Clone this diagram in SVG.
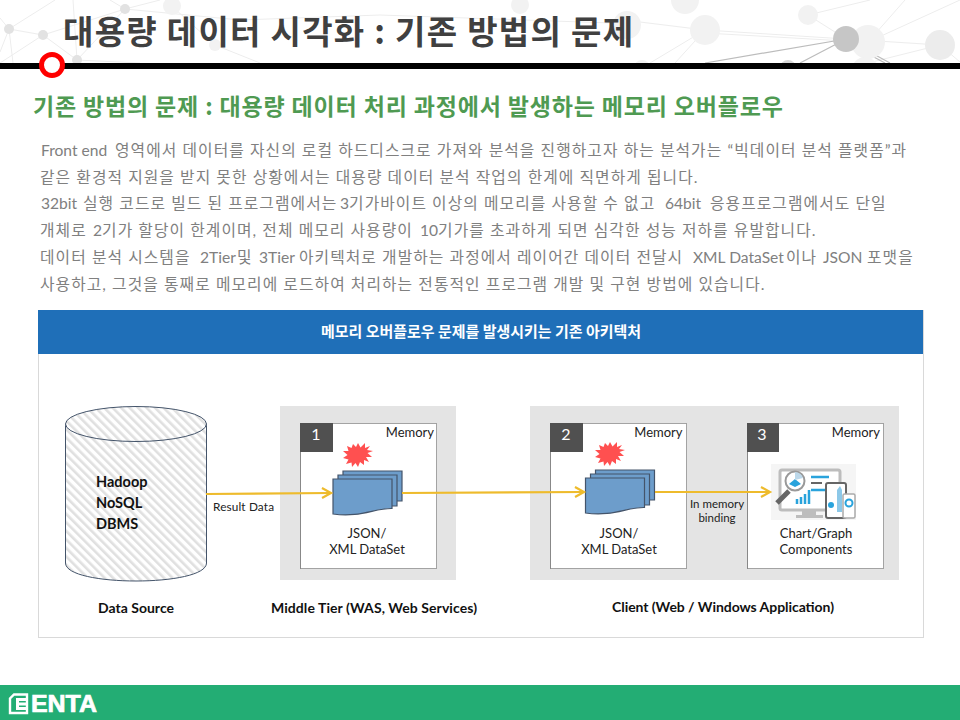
<svg xmlns="http://www.w3.org/2000/svg" width="960" height="720" viewBox="0 0 960 720">
<style>
text{font-family:"Lato","Noto Sans CJK KR","Noto Sans",sans-serif}
.ko{font-family:"Noto Sans CJK KR","Noto Sans",sans-serif}
.body{font-size:15.800px;fill:#808080;letter-spacing:1.060px}
.la{font-size:15.600px;letter-spacing:0}
.lab{font-size:13px;fill:#222;text-anchor:middle}
.mem{font-size:13px;fill:#222;text-anchor:end}
.num{font-size:16px;fill:#fff;text-anchor:middle}
.cap{font-size:14px;font-weight:700;fill:#111;text-anchor:middle}
.db{font-size:14.500px;font-weight:700;fill:#111}
.panel{fill:#e4e4e4}
.box{fill:#fff;stroke:#555;stroke-width:1;stroke-dasharray:1 1}
.edge{stroke:#888;stroke-width:1;fill:none}
.tag{fill:#505050}
.conn{fill:none;stroke:#eebb2c;stroke-width:2.200}
.sheet{fill:#6d9dcb;stroke:#44546a;stroke-width:1.200}
.star{fill:#ff5050}
.nl{stroke:#ededed;stroke-width:1;fill:none}
.nd{fill:#e2e2e2}
.fd{fill:#f2f2f2}
.dl{stroke:#bcbcbc;stroke-width:1.200;fill:none}
</style>
<defs>
<pattern id="hatch" width="6" height="6" patternUnits="userSpaceOnUse" patternTransform="rotate(-45)">
<rect width="6" height="6" fill="#fff"/><rect width="2.600" height="6" fill="#e0e0e0"/>
</pattern>
<clipPath id="top"><rect width="960" height="63"/></clipPath>
<marker id="open" markerWidth="14" markerHeight="14" refX="10" refY="6" orient="auto" markerUnits="userSpaceOnUse">
<path d="M1 1 L10 6 L1 11" fill="none" stroke="#eebb2c" stroke-width="2.200"/>
</marker>
<g id="stack">
<path class="sheet" d="M10 -8H69V22H10Z"/>
<path class="sheet" d="M5 -4H64V27H5Z"/>
<path class="sheet" d="M0 0H59V29.500C42 29 27 39 0 35Z"/>
</g>
<path id="burst" class="star" d="M1 -12 L3.500 -7.500 L8 -12 L8 -7 L13 -9 L10 -5 L16 -4 L10.500 -2 L15 2 L9 2 L12 7 L7 5 L7 10 L3 7 L1 12 L-1.500 8 L-5 12 L-5.500 7.500 L-11 9 L-8.500 4.500 L-14 3 L-9.500 0 L-14 -4 L-8.500 -4 L-10 -9 L-5.500 -7 L-4 -11 L-1 -8Z"/>
</defs>
<rect width="960" height="720" fill="#fff"/>
<g id="network-background" clip-path="url(#top)">
<path class="nl" d="M9 29L55 0M9 29L43 35M9 29L13 63M9 29L0 52M9 29L0 18M43 35L77 60M43 35L125 9M43 35L0 63M77 60L73 0M125 9L77 60M125 9L110 0M125 9L240 20M125 9L160 0M77 60L140 63M215 45L165 0M215 45L260 63M240 20L380 15M380 15L640 24"/>
<path class="nl" d="M640 22L705 30M705 30L846 39M705 33L846 41M705 30L675 63M705 30L650 63M808 15L846 39M808 15L870 0M868 42L905 0M868 42L960 0M846 39L940 45M940 45L868 63M940 45L960 62"/>
<path class="dl" d="M846 39L705 63M846 39L800 63M846 39L890 63M846 42L885 63"/>
<circle class="nd" cx="9" cy="29" r="5"/><circle class="nd" cx="43" cy="35" r="5"/><circle class="nd" cx="77" cy="60" r="5"/><circle class="nd" cx="125" cy="9" r="5"/>
<circle class="fd" cx="172" cy="6" r="9"/><circle class="fd" cx="215" cy="45" r="6"/>
<circle class="fd" cx="520" cy="5" r="9"/><circle class="fd" cx="627" cy="25" r="14"/>
<circle class="fd" cx="685" cy="0" r="14"/><circle class="fd" cx="705" cy="30" r="15"/><circle class="fd" cx="808" cy="15" r="10"/>
<circle class="fd" cx="868" cy="42" r="17"/><circle cx="846" cy="39" r="13" fill="#c6c6c6"/><circle cx="940" cy="45" r="15" fill="#ececec"/>
<circle class="fd" cx="865" cy="70" r="13"/><circle cx="788" cy="68" r="8" fill="#d6d6d6"/><circle class="fd" cx="642" cy="68" r="8"/>
</g>
<g id="title">
<text class="ko" x="63" y="44" font-size="33" font-weight="700" fill="#404040" textLength="570">대용량 데이터 시각화 : 기존 방법의 문제</text>
<rect x="0" y="63" width="960" height="6" fill="#000"/>
<circle cx="52" cy="65" r="10.500" fill="#fff" stroke="#f00" stroke-width="5"/>
</g>
<text class="ko" x="33" y="115" font-size="23" font-weight="700" fill="#4f9a52" textLength="750">기존 방법의 문제 : 대용량 데이터 처리 과정에서 발생하는 메모리 오버플로우</text>
<g id="body-text">
<text class="body" y="156"><tspan class="la" x="41">Front end</tspan><tspan x="115">영역에서 데이터를 자신의 로컬 하드디스크로 가져와 분석을 진행하고자 하는 분석가는 “빅데이터 분석 플랫폼”과</tspan></text>
<text class="body" y="183" x="40">같은 환경적 지원을 받지 못한 상황에서는 대용량 데이터 분석 작업의 한계에 직면하게 됩니다.</text>
<text class="body" y="209"><tspan class="la" x="41">32bit</tspan><tspan x="83">실행 코드로 빌드 된 프로그램에서는</tspan><tspan class="la" x="340">3</tspan><tspan>기가바이트 이상의 메모리를 사용할 수 없고</tspan><tspan class="la" x="665">64bit</tspan><tspan x="710">응용프로그램에서도 단일</tspan></text>
<text class="body" y="236"><tspan x="40">개체로</tspan><tspan class="la" x="93">2</tspan><tspan>기가 할당이 한계이며, 전체 메모리 사용량이</tspan><tspan class="la" x="420">10</tspan><tspan>기가를 초과하게 되면 심각한 성능 저하를 유발합니다.</tspan></text>
<text class="body" y="263"><tspan x="40">데이터 분석 시스템을</tspan><tspan class="la" x="200">2Tier</tspan><tspan x="237">및</tspan><tspan class="la" x="259">3Tier</tspan><tspan x="299">아키텍처로 개발하는 과정에서 레이어간 데이터 전달시</tspan><tspan class="la" x="693">XML DataSet</tspan><tspan x="786">이나</tspan><tspan class="la" x="823">JSON</tspan><tspan x="867">포맷을</tspan></text>
<text class="body" y="290" x="40">사용하고, 그것을 통째로 메모리에 로드하여 처리하는 전통적인 프로그램 개발 및 구현 방법에 있습니다.</text>
</g>
<g id="diagram-frame">
<rect x="38.500" y="310.500" width="885" height="327" fill="#fff" stroke="#d9d9d9"/>
<rect x="38" y="310" width="885" height="44" fill="#1f6fb8"/>
<text class="ko" x="321" y="337" font-size="15" font-weight="700" fill="#fff" textLength="320" lengthAdjust="spacingAndGlyphs">메모리 오버플로우 문제를 발생시키는 기존 아키텍처</text>
</g>
<g id="data-source">
<path d="M65.500 424V563C65.500 587 206.500 587 206.500 563V424Z" fill="url(#hatch)" stroke="#44546a"/>
<ellipse cx="136" cy="424" rx="70.500" ry="17.500" fill="url(#hatch)" stroke="#44546a"/>
<text class="db" x="96" y="487">Hadoop</text><text class="db" x="96" y="508">NoSQL</text><text class="db" x="96" y="529">DBMS</text>
<text class="cap" x="136" y="613" textLength="76">Data Source</text>
</g>
<g id="middle-tier">
<rect class="panel" x="280" y="406" width="176" height="174"/>
<rect class="box" x="300.500" y="423.500" width="136" height="145"/>
<path class="edge" d="M300.500 423V569"/>
<rect class="tag" x="300" y="423" width="33" height="29"/>
<text class="num" x="316" y="440">1</text><text class="mem" x="434" y="437">Memory</text>
<use href="#burst" x="357" y="455"/>
<use href="#stack" x="333" y="479"/>
<text class="lab" x="367" y="538">JSON/</text><text class="lab" x="367" y="554">XML DataSet</text>
<text class="cap" x="374" y="613" textLength="206">Middle Tier (WAS, Web Services)</text>
</g>
<g id="client">
<rect class="panel" x="530" y="406" width="369" height="174"/>
<text class="cap" x="723" y="612" textLength="222">Client (Web / Windows Application)</text>
</g>
<g id="memory-2">
<rect class="box" x="550.500" y="423.500" width="136" height="145"/>
<path class="edge" d="M550.500 423V569"/>
<rect class="tag" x="550" y="423" width="33" height="29"/>
<text class="num" x="566" y="440">2</text><text class="mem" x="682.500" y="437">Memory</text>
<use href="#burst" x="609" y="454"/>
<use href="#stack" x="585.500" y="478"/>
<text class="lab" x="619" y="538">JSON/</text><text class="lab" x="619" y="554">XML DataSet</text>
</g>
<g id="memory-3">
<rect class="box" x="747.500" y="423.500" width="136" height="145"/>
<path class="edge" d="M747.500 423V569"/>
<rect class="tag" x="747" y="423" width="32" height="29"/>
<text class="num" x="762" y="440">3</text><text class="mem" x="880" y="437">Memory</text>
<g id="chart-icon">
<rect x="771" y="464" width="85" height="56" fill="#f5f5f5"/>
<rect x="780" y="470" width="60" height="40" rx="2" fill="#fff" stroke="#bdbdbd" stroke-width="3"/>
<path d="M802 510H816V515H823V518H796V515H802Z" fill="#bdbdbd"/>
<path d="M811 477H829M811 490H829" stroke="#29a3dc" stroke-width="2.500" fill="none"/>
<path d="M811 483H822" stroke="#666" stroke-width="2" fill="none"/>
<path d="M789 491L777 503" stroke="#666" stroke-width="5"/>
<circle cx="795" cy="481" r="9.500" fill="#fff" stroke="#999" stroke-width="2"/>
<path d="M789 484L795 479L801 484L795 487Z" fill="#29a3dc"/>
<path d="M795 472A9 9 0 0 1 803 478L795 480Z" fill="#bcd8ea"/>
<path d="M797 499V504M801 497V504M805 494V504M809 490V504" stroke="#29a3dc" stroke-width="2.500"/>
<rect x="826" y="483" width="20" height="35" rx="2" fill="#fff" stroke="#666" stroke-width="2"/>
<path d="M842 512V490L840 486L837 490V512Z" fill="#8cc8e8"/><circle cx="831" cy="505" r="3" fill="#29a3dc"/>
<rect x="843" y="494" width="12" height="24" rx="1.500" fill="#fff" stroke="#aaa" stroke-width="1.500"/>
<circle cx="849" cy="503" r="3.500" fill="none" stroke="#29a3dc" stroke-width="2"/>
</g>
<text class="lab" x="816" y="538">Chart/Graph</text><text class="lab" x="816" y="554">Components</text>
</g>
<g id="connectors">
<path class="conn" d="M206 494L331 493" marker-end="url(#open)"/>
<path class="conn" d="M402 493L584 492" marker-end="url(#open)"/>
<path class="conn" d="M655 492L770 492" marker-end="url(#open)"/>
</g>
<g id="connector-labels">
<text x="243.500" y="511" font-size="11.800" fill="#222" text-anchor="middle" textLength="61">Result Data</text>
<text x="717" y="508" font-size="11.500" fill="#222" text-anchor="middle">In memory</text>
<text x="717" y="522" font-size="11.500" fill="#222" text-anchor="middle">binding</text>
</g>
<g id="footer">
<rect x="0" y="685" width="960" height="35" fill="#23ad74"/>
<path d="M14 694.500H27V713H10V698.500Z" fill="none" stroke="#fff" stroke-width="2.400"/>
<path d="M16 698H26V701H19V702.500H26V705.500H19V707H26V710H16Z" fill="#fff"/>
<text x="31" y="712" font-size="23" font-weight="700" fill="#fff" stroke="#fff" stroke-width=".7" style="font-family:'Liberation Sans',sans-serif" textLength="66" lengthAdjust="spacingAndGlyphs">ENTA</text>
</g>
</svg>
